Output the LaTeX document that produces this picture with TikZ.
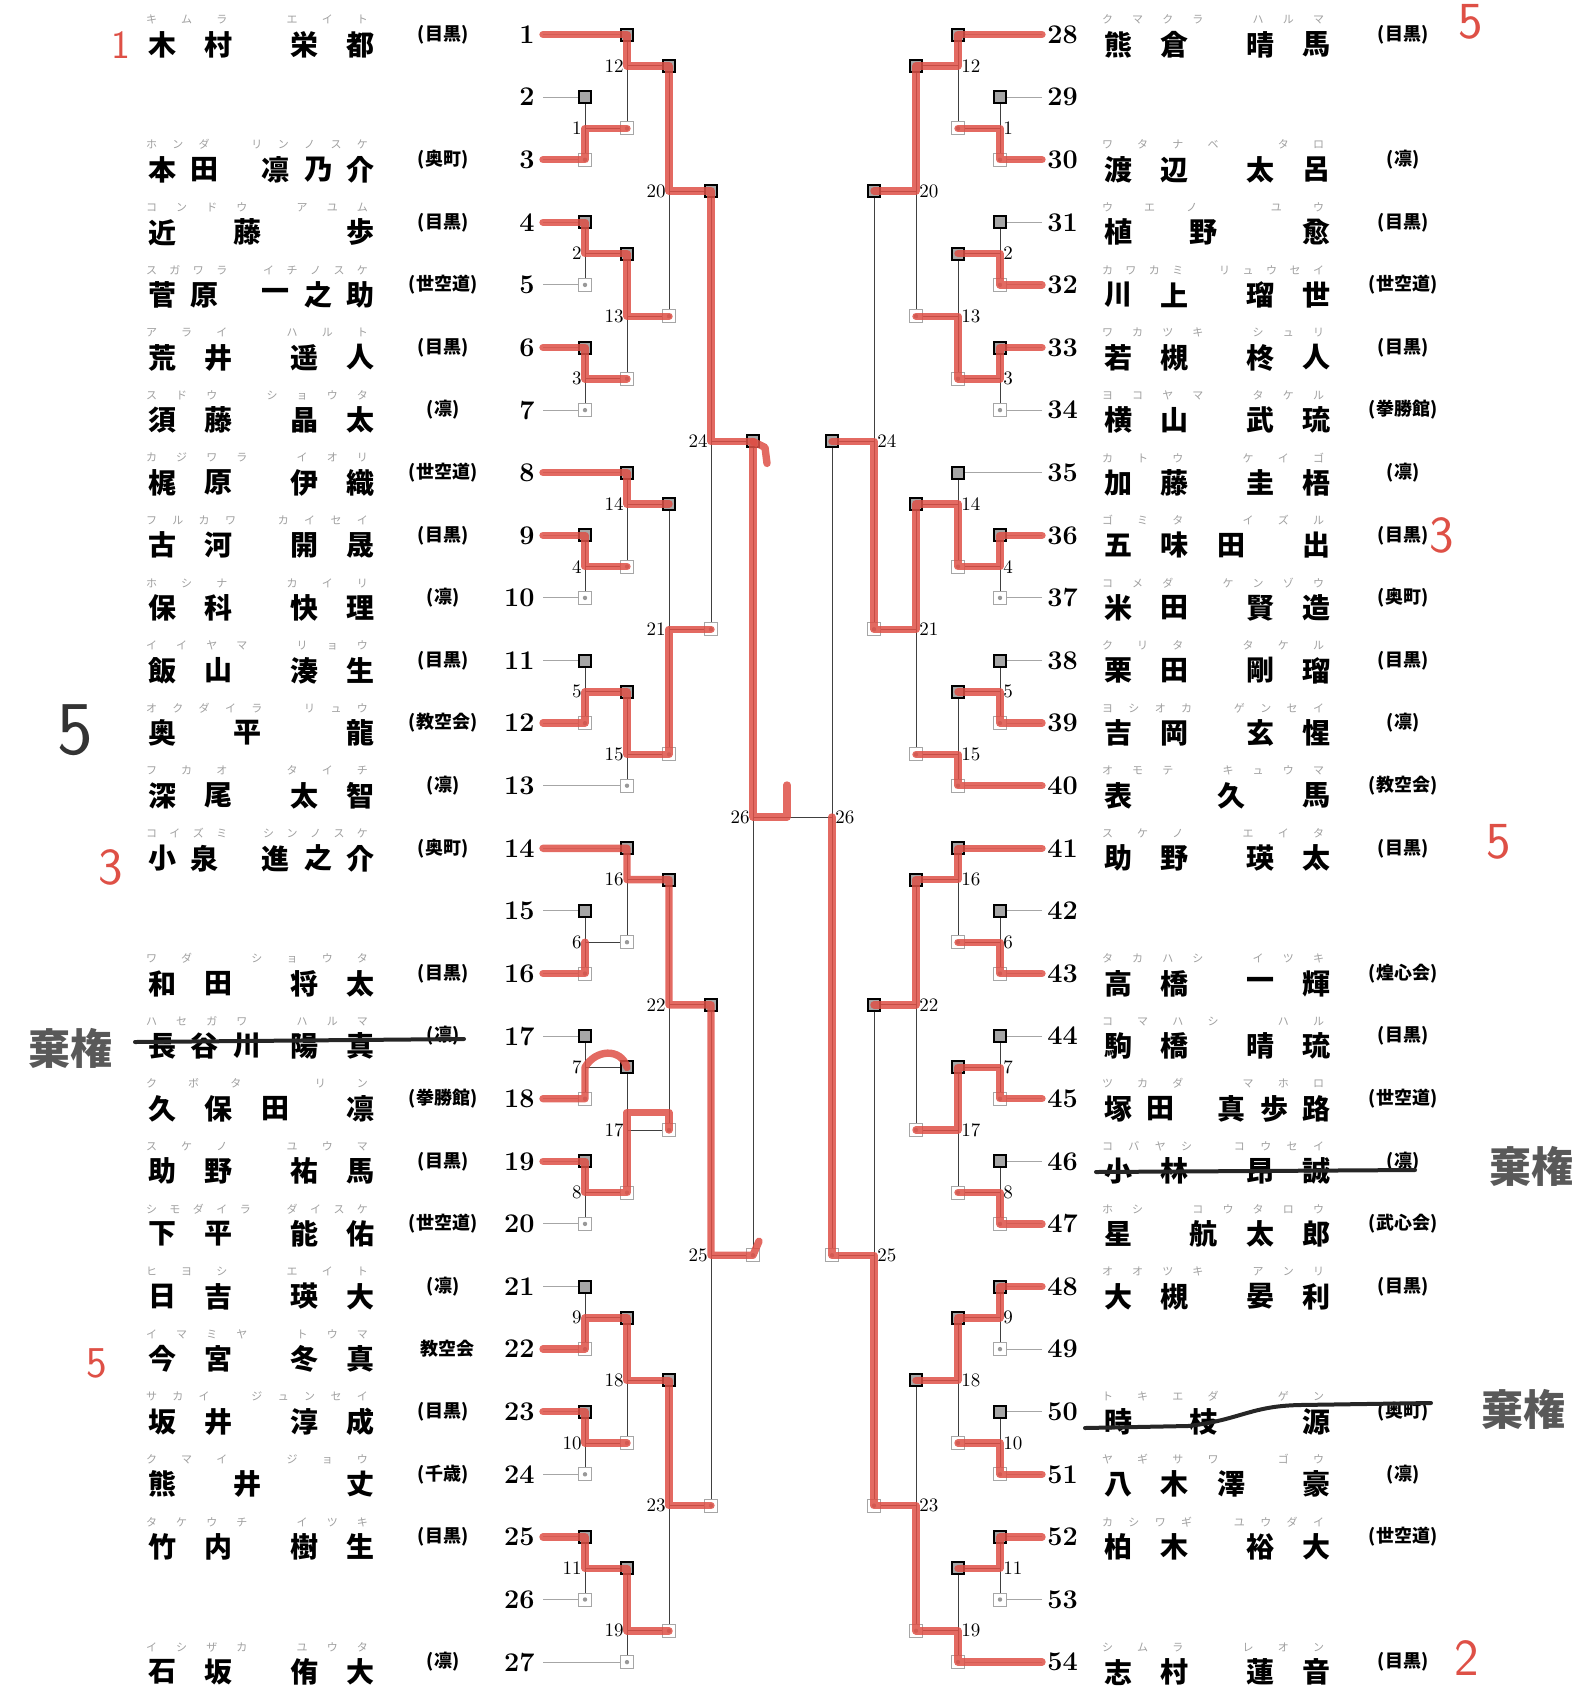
\documentclass[tikz,border=0pt]{standalone}
\usepackage{fontspec}
\newfontfamily\jp{Noto Sans CJK JP}
\usetikzlibrary{calc}
\definecolor{pen}{RGB}{222,80,70}

% spread the characters of a word over a box
\def\spr#1{\sprA#1\relax}
\def\sprA#1#2{#1\ifx\relax#2\else\hfill\expandafter\sprA\expandafter#2\fi}

\tikzset{
  aka/.style={draw=black,line width=1pt,fill=gray!70,minimum size=6pt,inner sep=0pt},
  shiro/.style={draw=gray!70,line width=0.5pt,fill=white,minimum size=6.5pt,inner sep=0pt,
    path picture={\fill[gray!80] (path picture bounding box.center) circle (1.1pt);}},
  tie/.style={draw=black!75,line width=0.45pt},
  entry/.style={draw=gray!70,line width=0.45pt},
  num/.style={font=\bfseries\fontsize{13.5}{13.5}\selectfont,inner sep=0pt},
  mno/.style={font=\fontsize{9.5}{9.5}\selectfont,inner sep=0.5pt},
  kanji/.style={font=\jp\bfseries\fontsize{14}{14}\selectfont,inner sep=0pt},
  furi/.style={font=\jp\fontsize{5.5}{5.5}\selectfont,text=gray!75,inner sep=0pt},
  club/.style={font=\jp\bfseries\fontsize{9}{9}\selectfont,inner sep=0pt},
  win/.style={draw=pen,line width=3.7pt,opacity=0.85,line join=round,line cap=round},
  strike/.style={draw=black!85,line width=2pt,line cap=round},
  rank/.style={font=\sffamily\fontsize{26}{26}\selectfont,text=pen},
  kiken/.style={font=\jp\bfseries\fontsize{21}{21}\selectfont,text=black!65},
}

% #1 name x, #2 club x, #3 row, #4 furigana, #5 char/offset list, #6 club
\newcommand\pname[6]{%
  \pgfmathsetmacro\yy{34.5+(#3-1)*62.6}%
  \foreach \ch/\off [count=\k] in {#5}
    {\node[kanji] (k#3-#1-\k) at ({#1+\off*28.4},{\yy+10}) {\ch};}
  \node[furi] (f#3-#1) at ({#1+95},{\yy-15}) {\hbox to 111pt{\spr{#4}}};
  \node[club] (c#3-#1) at (#2,\yy) {#6};
}

% match / half-row of match / level / top end / bottom end / box it feeds
\def\matches{1/3/1/2/4/12b,2/7/1/6/8/13t,3/11/1/10/12/13b,4/17/1/16/18/14b,
  5/21/1/20/22/15t,6/29/1/28/30/16b,7/33/1/32/34/17t,8/37/1/36/38/17b,
  9/41/1/40/42/18t,10/45/1/44/46/18b,11/49/1/48/50/19t,12/1/2/0/3/20t,
  13/9/2/7/11/20b,14/15/2/14/17/21t,15/23/2/21/24/21b,16/27/2/26/29/22t,
  17/35/2/33/37/22b,18/43/2/41/45/23t,19/51/2/49/52/23b,20/5/3/1/9/24t,
  21/19/3/15/23/24b,22/31/3/27/35/25t,23/47/3/43/51/25b,24/13/4/5/19/26t,
  25/39/4/31/47/26b,26/25/5/13/39/26m}
% entry row / box it enters
\def\entries{1/12t,2/1t,3/1b,4/2t,5/2b,6/3t,7/3b,8/14t,9/4t,10/4b,11/5t,12/5b,
  13/15b,14/16t,15/6t,16/6b,17/7t,18/7b,19/8t,20/8b,21/9t,22/9b,23/10t,
  24/10b,25/11t,26/11b,27/19b}

\begin{document}
\begin{tikzpicture}[x=0.5pt,y=-0.5pt]
\useasboundingbox (0,0) rectangle (1582,1693);

% boxes and match labels
\foreach \m/\h/\lv/\tp/\bt/\up in \matches {
  \coordinate (L\m m) at ({585+(\lv-1)*42},{34.5+\h*31.3});
  \coordinate (R\m m) at ({1000-(\lv-1)*42},{34.5+\h*31.3});
  \node[aka] (L\m t) at ({585+(\lv-1)*42},{34.5+\tp*31.3}) {};
  \node[shiro] (L\m b) at ({585+(\lv-1)*42},{34.5+\bt*31.3}) {};
  \node[aka] (R\m t) at ({1000-(\lv-1)*42},{34.5+\tp*31.3}) {};
  \node[shiro] (R\m b) at ({1000-(\lv-1)*42},{34.5+\bt*31.3}) {};
  \node[mno,anchor=east] (L\m l) at ({583+(\lv-1)*42},{34.5+\h*31.3}) {\m};
  \node[mno,anchor=west] (R\m l) at ({1002-(\lv-1)*42},{34.5+\h*31.3}) {\m};
}
\foreach \m/\h/\lv/\tp/\bt/\up in \matches {
  \draw[tie] (L\m t) -- (L\m b);
  \draw[tie] (R\m t) -- (R\m b);
  \ifnum\m<26
    \draw[tie] (L\m m) -- (L\up);
    \draw[tie] (R\m m) -- (R\up);
  \fi
}
\draw[tie] (L26m) -- (R26m);

% entry numbers and lines
\foreach \i/\bx in \entries {
  \pgfmathtruncatemacro\j{\i+27}
  \node[num,anchor=east] (n\i) at (535,{34.5+(\i-1)*62.6}) {\i};
  \node[num,anchor=west] (n\j) at (1047,{34.5+(\i-1)*62.6}) {\j};
  \coordinate (s\i) at ($(n\i.east)+(8,0)$);
  \coordinate (s\j) at ($(n\j.west)+(-5,0)$);
  \draw[entry] (s\i) -- (L\bx);
  \draw[entry] (s\j) -- (R\bx);
}

% left names
\pname{162}{443}{1}{キムラ　エイト}{木/0,村/2,栄/5,都/7}{(目黒)}
\pname{162}{443}{3}{ホンダ　リンノスケ}{本/0,田/1.5,凛/4,乃/5.5,介/7}{(奥町)}
\pname{162}{443}{4}{コンドウ　アユム}{近/0,藤/3,歩/7}{(目黒)}
\pname{162}{443}{5}{スガワラ　イチノスケ}{菅/0,原/1.5,一/4,之/5.5,助/7}{(世空道)}
\pname{162}{443}{6}{アライ　ハルト}{荒/0,井/2,遥/5,人/7}{(目黒)}
\pname{162}{443}{7}{スドウ　ショウタ}{須/0,藤/2,晶/5,太/7}{(凛)}
\pname{162}{443}{8}{カジワラ　イオリ}{梶/0,原/2,伊/5,織/7}{(世空道)}
\pname{162}{443}{9}{フルカワ　カイセイ}{古/0,河/2,開/5,晟/7}{(目黒)}
\pname{162}{443}{10}{ホシナ　カイリ}{保/0,科/2,快/5,理/7}{(凛)}
\pname{162}{443}{11}{イイヤマ　リョウ}{飯/0,山/2,湊/5,生/7}{(目黒)}
\pname{162}{443}{12}{オクダイラ　リュウ}{奥/0,平/3,龍/7}{(教空会)}
\pname{162}{443}{13}{フカオ　タイチ}{深/0,尾/2,太/5,智/7}{(凛)}
\pname{162}{443}{14}{コイズミ　シンノスケ}{小/0,泉/1.5,進/4,之/5.5,介/7}{(奥町)}
\pname{162}{443}{16}{ワダ　ショウタ}{和/0,田/2,将/5,太/7}{(目黒)}
\pname{162}{443}{17}{ハセガワ　ハルマ}{長/0,谷/1.5,川/3,陽/5,真/7}{(凛)}
\pname{162}{443}{18}{クボタ　リン}{久/0,保/2,田/4,凛/7}{(拳勝館)}
\pname{162}{443}{19}{スケノ　ユウマ}{助/0,野/2,祐/5,馬/7}{(目黒)}
\pname{162}{443}{20}{シモダイラ　ダイスケ}{下/0,平/2,能/5,佑/7}{(世空道)}
\pname{162}{443}{21}{ヒヨシ　エイト}{日/0,吉/2,瑛/5,大/7}{(凛)}
\pname{162}{447}{22}{イマミヤ　トウマ}{今/0,宮/2,冬/5,真/7}{教空会}
\pname{162}{443}{23}{サカイ　ジュンセイ}{坂/0,井/2,淳/5,成/7}{(目黒)}
\pname{162}{443}{24}{クマイ　ジョウ}{熊/0,井/3,丈/7}{(千歳)}
\pname{162}{443}{25}{タケウチ　イツキ}{竹/0,内/2,樹/5,生/7}{(目黒)}
\pname{162}{443}{27}{イシザカ　ユウタ}{石/0,坂/2,侑/5,大/7}{(凛)}

% right names
\pname{1118}{1403}{1}{クマクラ　ハルマ}{熊/0,倉/2,晴/5,馬/7}{(目黒)}
\pname{1118}{1403}{3}{ワタナベ　タロ}{渡/0,辺/2,太/5,呂/7}{(凛)}
\pname{1118}{1403}{4}{ウエノ　ユウ}{植/0,野/3,愈/7}{(目黒)}
\pname{1118}{1403}{5}{カワカミ　リュウセイ}{川/0,上/2,瑠/5,世/7}{(世空道)}
\pname{1118}{1403}{6}{ワカツキ　シュリ}{若/0,槻/2,柊/5,人/7}{(目黒)}
\pname{1118}{1403}{7}{ヨコヤマ　タケル}{横/0,山/2,武/5,琉/7}{(拳勝館)}
\pname{1118}{1403}{8}{カトウ　ケイゴ}{加/0,藤/2,圭/5,梧/7}{(凛)}
\pname{1118}{1403}{9}{ゴミタ　イズル}{五/0,味/2,田/4,出/7}{(目黒)}
\pname{1118}{1403}{10}{コメダ　ケンゾウ}{米/0,田/2,賢/5,造/7}{(奥町)}
\pname{1118}{1403}{11}{クリタ　タケル}{栗/0,田/2,剛/5,瑠/7}{(目黒)}
\pname{1118}{1403}{12}{ヨシオカ　ゲンセイ}{吉/0,岡/2,玄/5,惺/7}{(凛)}
\pname{1118}{1403}{13}{オモテ　キュウマ}{表/0,久/4,馬/7}{(教空会)}
\pname{1118}{1403}{14}{スケノ　エイタ}{助/0,野/2,瑛/5,太/7}{(目黒)}
\pname{1118}{1403}{16}{タカハシ　イツキ}{高/0,橋/2,一/5,輝/7}{(煌心会)}
\pname{1118}{1403}{17}{コマハシ　ハル}{駒/0,橋/2,晴/5,琉/7}{(目黒)}
\pname{1118}{1403}{18}{ツカダ　マホロ}{塚/0,田/1.5,真/4,歩/5.5,路/7}{(世空道)}
\pname{1118}{1403}{19}{コバヤシ　コウセイ}{小/0,林/2,昂/5,誠/7}{(凛)}
\pname{1118}{1403}{20}{ホシ　コウタロウ}{星/0,航/3,太/5,郎/7}{(武心会)}
\pname{1118}{1403}{21}{オオツキ　アンリ}{大/0,槻/2,晏/5,利/7}{(目黒)}
\pname{1118}{1403}{23}{トキエダ　ゲン}{時/0,枝/3,源/7}{(奥町)}
\pname{1118}{1403}{24}{ヤギサワ　ゴウ}{八/0,木/2,澤/4,豪/7}{(凛)}
\pname{1118}{1403}{25}{カシワギ　ユウダイ}{柏/0,木/2,裕/5,大/7}{(世空道)}
\pname{1118}{1403}{27}{シムラ　レオン}{志/0,村/2,蓮/5,音/7}{(目黒)}

% winners traced in red, left half
\draw[win] (s1) -- (L12t.center) -- (L12m) -- (L20t.center) -- (L20m) -- (L24t.center) -- (L24m)
  -- (L26t.center) -- (L26m) -- ++(34,0) -- ++(0,-32);
\draw[win] (L26t.center) -- ++(12,6) -- ++(2,16);
\draw[win] (s3) -- (L1b.center) -- (L1m) -- (L12b.center);
\draw[win] (s4) -- (L2t.center) -- (L2m) -- (L13t.center) -- (L13m) -- (L20b.center);
\draw[win] (s6) -- (L3t.center) -- (L3m) -- (L13b.center);
\draw[win] (s8) -- (L14t.center) -- (L14m) -- (L21t.center);
\draw[win] (s9) -- (L4t.center) -- (L4m) -- (L14b.center);
\draw[win] (s12) -- (L5b.center) -- (L5m) -- (L15t.center) -- (L15m) -- (L21b.center) -- (L21m) -- (L24b.center);
\draw[win] (s14) -- (L16t.center) -- (L16m) -- (L22t.center) -- (L22m) -- (L25t.center) -- (L25m)
  -- (L26b.center) -- ++(6,-14);
\draw[win] (s16) -- (L6b.center) -- (L6m);
\draw[win] (s18) -- (L7b.center) -- (L7m) .. controls +(10,-18) and +(-6,-20) .. (L17t.center);
\draw[win] (s19) -- (L8t.center) -- (L8m) -- (L17b.center) -- ++(0,-80) -| (L22b.center);
\draw[win] (s22) -- (L9b.center) -- (L9m) -- (L18t.center) -- (L18m) -- (L23t.center) -- (L23m) -- (L25b.center);
\draw[win] (s23) -- (L10t.center) -- (L10m) -- (L18b.center);
\draw[win] (s25) -- (L11t.center) -- (L11m) -- (L19t.center) -- (L19m) -- (L23b.center);

% right half
\draw[win] (s28) -- (R12t.center) -- (R12m) -- (R20t.center) -- (R20m) -- (R24t.center);
\draw[win] (s30) -- (R1b.center) -- (R1m) -- (R12b.center);
\draw[win] (s32) -- (R2b.center) -- (R2m) -- (R13t.center);
\draw[win] (s33) -- (R3t.center) -- (R3m) -- (R13b.center) -- (R13m) -- (R20b.center);
\draw[win] (s36) -- (R4t.center) -- (R4m) -- (R14b.center) -- (R14m) -- (R21t.center) -- (R21m)
  -- (R24b.center) -- (R24m) -- (R26t.center);
\draw[win] (s39) -- (R5b.center) -- (R5m) -- (R15t.center);
\draw[win] (s40) -- (R15b.center) -- (R15m) -- (R21b.center);
\draw[win] (s41) -- (R16t.center) -- (R16m) -- (R22t.center) -- (R22m) -- (R25t.center);
\draw[win] (s43) -- (R6b.center) -- (R6m) -- (R16b.center);
\draw[win] (s45) -- (R7b.center) -- (R7m) -- (R17t.center) -- (R17m) -- (R22b.center);
\draw[win] (s47) -- (R8b.center) -- (R8m) -- (R17b.center);
\draw[win] (s48) -- (R9t.center) -- (R9m) -- (R18t.center) -- (R18m) -- (R23t.center);
\draw[win] (s51) -- (R10b.center) -- (R10m) -- (R18b.center);
\draw[win] (s52) -- (R11t.center) -- (R11m) -- (R19t.center);
\draw[win] (s54) -- (R19b.center) -- (R19m) -- (R23b.center) -- (R23m) -- (R25b.center) -- (R25m)
  -- (R26b.center) -- (R26m);

% withdrawals
\draw[strike] (135,1042) -- (464,1039);
\draw[strike] (1096,1172) -- (1415,1170);
\draw[strike] (1085,1428) -- (1188,1426) .. controls (1240,1420) and (1250,1406) .. (1300,1405) -- (1431,1403);
\node[kiken] (kk1) at (70,1048) {棄権};
\node[kiken] (kk2) at (1531,1166) {棄権};
\node[kiken] (kk3) at (1523,1409) {棄権};

% hand-written places
\node[rank,font=\sffamily\fontsize{20}{20}\selectfont] (rk1) at (121,45) {1};
\node[rank,text=black!80,font=\sffamily\fontsize{38}{38}\selectfont] (rk2) at (75,730) {5};
\node[rank] (rk3) at (111,867) {3};
\node[rank,font=\sffamily\fontsize{22}{22}\selectfont] (rk4) at (97,1363) {5};
\node[rank] (rk5) at (1471,22) {5};
\node[rank] (rk6) at (1442,535) {3};
\node[rank] (rk7) at (1499,842) {5};
\node[rank] (rk8) at (1467,1658) {2};
\end{tikzpicture}
\end{document}
